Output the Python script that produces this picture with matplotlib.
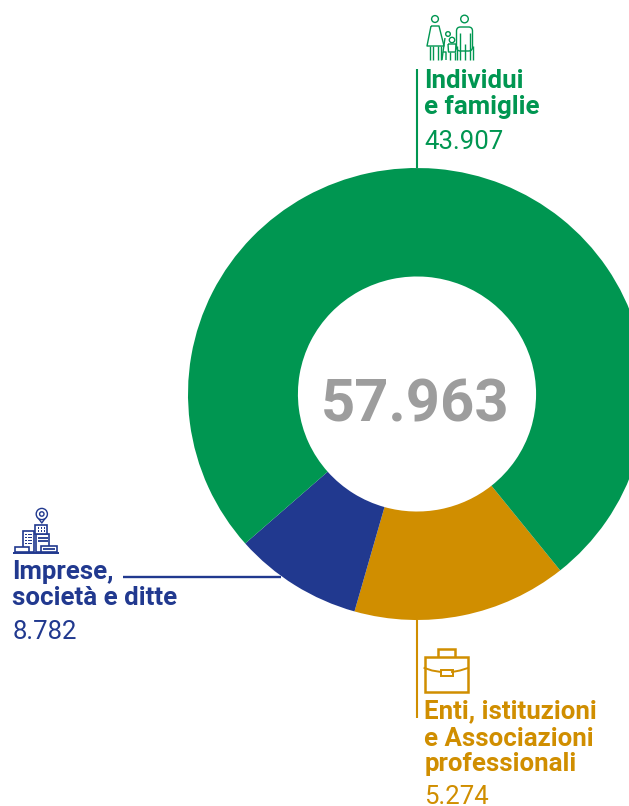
import matplotlib
matplotlib.use("Agg")
import matplotlib.pyplot as plt
from matplotlib.patches import Circle, Rectangle, FancyBboxPatch

# slice sizes follow the ring as drawn (gold is the larger slice in the picture)
slice_names = ["Enti", "Imprese", "Individui"]
slice_values = [8782, 5274, 43907]
slice_colors = ["#D08E00", "#21398F", "#009651"]

total_label = "57.963"
green_label = ["Individui", "e famiglie"]
green_value = "43.907"
blue_label = ["Imprese,", "società e ditte"]
blue_value = "8.782"
gold_label = ["Enti, istituzioni", "e Associazioni", "professionali"]
gold_value = "5.274"

GREEN, BLUE, GOLD = "#009651", "#21398F", "#D08E00"

plt.rcParams['font.family'] = ['Roboto', 'DejaVu Sans']

W, H = 629, 806
fig = plt.figure(figsize=(W / 100, H / 100), dpi=100)

# ring has its own axes, it runs past the right edge of the figure
left, top, right, bottom = 188, 168, 646, 620
ax_ring = fig.add_axes([left / W, 1 - bottom / H, (right - left) / W, (bottom - top) / H])
ax_ring.pie(slice_values, colors=slice_colors, startangle=51.3, radius=1,
            wedgeprops={'width': 0.48, 'linewidth': 0}, normalize=True)
ax_ring.set_xlim(-1, 1)
ax_ring.set_ylim(1, -1)
ax_ring.set_aspect('auto')
ax_ring.axis('off')

# everything else in picture pixels
ax = fig.add_axes([0, 0, 1, 1])
ax.patch.set_alpha(0)
ax.set_xlim(0, W)
ax.set_ylim(H, 0)
ax.axis('off')

# leader lines
ax.plot([417, 417], [69, 168], color=GREEN, lw=1.5, solid_capstyle='butt')
ax.plot([123, 281], [576.5, 576.5], color=BLUE, lw=1.7, solid_capstyle='butt')
ax.plot([417, 417], [620, 718], color=GOLD, lw=1.5, solid_capstyle='butt')

ax.text(415, 421, total_label, color="#9D9D9D", fontsize=43, fontweight='bold',
        ha='center', va='baseline')


def label(x, baselines, lines, value, value_base, color):
    for b, s in zip(baselines, lines):
        ax.text(x, b, s, color=color, fontsize=18.6, fontweight='bold', ha='left', va='baseline')
    ax.text(x, value_base, value, color=color, fontsize=18.5, ha='left', va='baseline')


label(424.5, [88, 114], green_label, green_value, 149, GREEN)
label(12.5, [579, 605], blue_label, blue_value, 639, BLUE)
label(424.5, [718, 746, 771], gold_label, gold_value, 804.5, GOLD)


def stroke(pts, color, lw=1.0):
    xs, ys = zip(*pts)
    ax.plot(xs, ys, color=color, lw=lw, solid_joinstyle='round', solid_capstyle='butt')


def ring(x, y, r, color, lw=1.0):
    ax.add_patch(Circle((x, y), r, fc='white', ec=color, lw=lw, zorder=3))


# family icon
ring(435, 19, 3.4, GREEN)
ring(464.5, 19, 3.8, GREEN)
stroke([(431, 26), (439, 26), (444, 46), (427, 46), (431, 26)], GREEN)
stroke([(429.5, 46), (429.5, 60)], GREEN)
stroke([(432.5, 46), (432.5, 60)], GREEN)
stroke([(437.5, 46), (437.5, 60)], GREEN)
stroke([(440.5, 46), (440.5, 60)], GREEN)
ax.add_patch(FancyBboxPatch((456.5, 27), 16, 24, boxstyle="round,pad=0,rounding_size=4",
                            fc='white', ec=GREEN, lw=1.0))
stroke([(459.5, 33), (459.5, 60)], GREEN)
stroke([(469.5, 33), (469.5, 60)], GREEN)
stroke([(464.5, 44), (464.5, 60)], GREEN)
stroke([(456.5, 46), (456.5, 60)], GREEN)
stroke([(472.5, 46), (472.5, 60)], GREEN)
stroke([(445, 38), (443, 52), (446, 52), (446, 60)], GREEN)
stroke([(442, 60), (443, 52)], GREEN)
ring(448, 34, 2.3, GREEN)
stroke([(448, 44), (456, 44), (455.5, 52), (448.5, 52), (448, 44)], GREEN)
ring(452, 40, 2.7, GREEN)
stroke([(449.5, 52), (449.5, 60)], GREEN)
stroke([(454.5, 52), (454.5, 60)], GREEN)

# building icon
ax.add_patch(Rectangle((23, 531), 11, 21, fc='white', ec=BLUE, lw=1.2))
ax.add_patch(Rectangle((36, 534), 13, 18, fc='white', ec=BLUE, lw=1.2))
ax.add_patch(Rectangle((35, 525), 12, 9, fc='white', ec=BLUE, lw=1.2))
ax.add_patch(Rectangle((15, 547), 14, 5, fc='white', ec=BLUE, lw=1.2))
ax.add_patch(Rectangle((41, 546), 16, 6, fc='white', ec=BLUE, lw=1.2))
stroke([(13, 552.5), (59, 552.5)], BLUE, 1.4)
for wx in (25, 27.7, 30.4):
    for wy in (533.5, 536.5, 539.5, 542.5):
        ax.add_patch(Rectangle((wx, wy), 1.8, 1.8, fc=BLUE, ec='none'))
for wx in (37.5, 40.5, 43.5):
    for wy in (527, 530):
        ax.add_patch(Rectangle((wx, wy), 1.8, 1.8, fc=BLUE, ec='none'))
stroke([(38, 537.5), (48, 537.5)], BLUE, 1.3)
stroke([(38, 541), (48, 541)], BLUE, 1.3)
stroke([(43, 549), (55, 549)], BLUE, 1.3)
# map pin
stroke([(36.8, 516), (41.8, 523), (46.8, 516)], BLUE, 1.0)
ring(41.8, 514, 5.6, BLUE)
ring(41.8, 514, 2.2, BLUE)

# briefcase icon
ax.add_patch(Rectangle((438, 648.5), 17, 9, fc='white', ec=GOLD, lw=1.8))
ax.add_patch(Rectangle((424.5, 657), 43.5, 34.5, fc='white', ec=GOLD, lw=1.8))
ax.plot([424.5, 432, 441], [668, 670.5, 672], color=GOLD, lw=1.4)
ax.plot([452, 460, 468], [672, 670.5, 668], color=GOLD, lw=1.4)
ax.add_patch(Rectangle((441, 670), 11.5, 6, fc='white', ec=GOLD, lw=1.4))

fig.savefig("out.png", dpi=100)
